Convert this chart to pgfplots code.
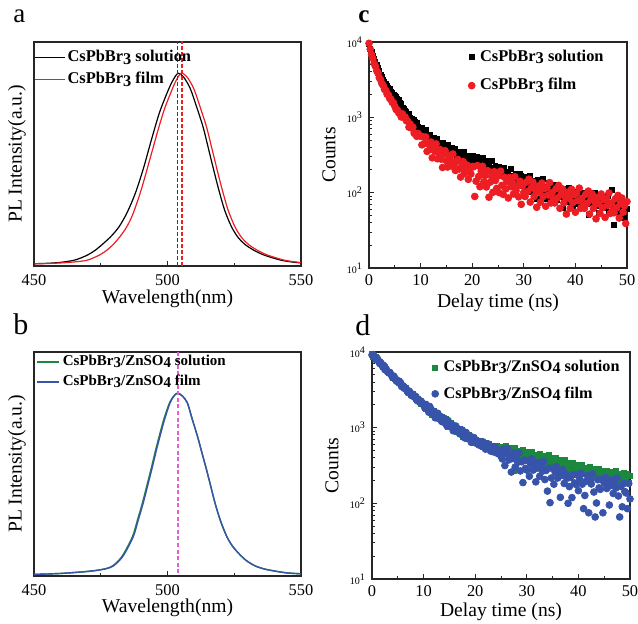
\documentclass[border=0pt]{standalone}
\usepackage{pgfplots}
\usepackage{pgfplotstable}
\pgfplotsset{compat=1.18}
\usepackage{fontspec}
\setmainfont{Liberation Serif}

\definecolor{cred}{RGB}{236,30,36}
\definecolor{cgreen}{RGB}{28,136,62}
\definecolor{cblue}{RGB}{56,84,170}
\definecolor{cpink}{RGB}{230,95,210}
\newcommand{\sub}[1]{\raisebox{-0.3ex}{#1}}

% time-resolved PL, CsPbBr3 (t in ns, counts)
\pgfplotstableread{
t sol film
0 9300 9600
0.25 8000 8000
0.5 7350 6800
0.75 6500 6050
1 6050 5200
1.25 5450 4750
1.5 5000 4150
1.75 4480 3850
2 4100 3350
2.25 3700 3150
2.5 3480 2800
2.75 3150 2650
3 2980 2350
3.25 2760 2280
3.5 2650 2030
3.75 2460 1990
4 2370 1780
4.25 2200 1740
4.5 2130 1580
4.75 1980 1550
5 1920 1400
5.25 1850 1270
5.5 1760 1250
5.75 1690 1150
6 1580 1120
6.25 1520 1010
6.5 1350 1110
6.75 1300 1000
7 1220 1010
7.25 1170 900
7.5 1100 890
7.75 1120 740
8 990 810
8.25 960 720
8.5 900 740
8.75 930 615
9 870 600
9.25 850 560
9.5 745 610
9.75 730 580
10 680 560
10.25 718 431
10.5 621 549
10.75 633 449
11 673 548
11.25 548 353
11.5 593 448
11.75 595 371
12 510 470
12.25 471 290
12.5 541 414
12.75 497 354
13 450 444
13.25 519 282
13.5 446 335
13.75 466 374
14 398 278
14.25 462 216
14.5 403 326
14.75 419 360
15 379 265
15.25 438 219
15.5 379 311
15.75 350 274
16 394 226
16.25 376 326
16.5 339 236
16.75 382 197
17 309 264
17.25 339 275
17.5 352 206
17.75 304 161
18 329 230
18.25 303 258
18.5 344 179
18.75 282 202
19 299 232
19.25 313 150
19.5 264 210
19.75 300 177
20 276 223
20.25 305 220
20.5 245 89
20.75 276 142
21 302 229
21.25 227 164
21.5 246 120
21.75 269 193
22 289 224
22.25 222 139
22.5 237 169
22.75 261 119
23 197 196
23.25 236 87
23.5 210 138
23.75 262 165
24 193 101
24.25 214 190
24.5 228 145
24.75 177 114
25 196 166
25.25 223 100
25.5 179 193
25.75 201 125
26 166 95
26.25 214 160
26.5 180 112
26.75 161 140
27 190 85
27.25 162 159
27.5 205 120
27.75 145 139
28 168 96
28.25 154 163
28.5 177 106
28.75 139 122
29 162 88
29.25 180 142
29.5 169 70
29.75 123 124
30 142 101
30.25 160 89
30.5 117 138
30.75 143 104
31 124 151
31.25 166 75
31.5 103 117
31.75 130 138
32 144 89
32.25 114 109
32.5 82 64
32.75 146 122
33 117 101
33.25 131 75
33.5 98 134
33.75 153 89
34 103 113
34.25 118 66
34.5 82 117
34.75 134 93
35 108 136
35.25 125 73
35.5 92 100
35.75 111 81
36 97 73
36.25 129 113
36.5 80 85
36.75 100 125
37 111 62
37.25 87 96
37.5 62 112
37.75 111 73
38 88 89
38.25 99 52
38.5 75 101
38.75 117 84
39 78 62
39.25 91 111
39.5 63 74
39.75 103 94
40 82 55
40.25 97 98
40.5 71 78
40.75 87 115
41 75 62
41.25 101 84
41.5 63 68
41.75 80 62
42 88 95
42.25 71 72
42.5 51 105
42.75 92 52
43 74 81
43.25 83 96
43.5 63 62
43.75 99 76
44 67 45
44.25 78 86
44.5 54 71
44.75 89 53
45 72 96
45.25 85 63
45.5 62 81
45.75 76 47
46 66 84
46.25 89 68
46.5 55 99
46.75 71 53
47 108 73
47.25 63 59
47.5 37 54
47.75 81 83
48 65 63
48.25 72 92
48.5 55 46
48.75 86 72
49 57 85
49.25 66 55
49.5 46 67
49.75 76 39
50 61 76
}\tauc

% time-resolved PL, CsPbBr3/ZnSO4
\pgfplotstableread{
t sol film
0 9520 9150
0.25 8690 9230
0.5 8690 8600
0.75 8590 7930
1 7780 8260
1.25 7290 7670
1.5 7470 7030
1.75 6920 7130
2 6410 6540
2.25 6470 6660
2.5 6390 5850
2.75 5970 5970
3 5450 5510
3.25 5450 5290
3.5 5390 5340
3.75 4880 4980
4 4590 4590
4.25 4730 4780
4.5 4410 4450
4.75 4110 4110
5 4160 4200
5.25 4120 3890
5.5 3850 3970
5.75 3530 3490
6 3540 3580
6.25 3480 3310
6.5 3320 3350
6.75 3010 3135
7 3110 2900
7.25 2920 3030
7.5 2730 2850
7.75 2780 2640
8 2760 2710
8.25 2590 2520
8.5 2380 2580
8.75 2420 2280
9 2380 2340
9.25 2170 2170
9.5 2050 2240
9.75 2130 2130
10 1990 1980
10.25 2050 1820
10.5 1740 2020
10.75 1850 1815
11 1920 1600
11.25 1620 1870
11.5 1490 1700
11.75 1660 1540
12 1670 1640
12.25 1460 1350
12.5 1350 1490
12.75 1520 1550
13 1380 1310
13.25 1260 1410
13.5 1380 1210
13.75 1180 1190
14 1250 1330
14.25 1300 1196
14.5 1100 1060
14.75 1020 1240
15 1140 1130
15.25 1150 1030
15.5 1010 1100
15.75 930 910
16 1060 1010
16.25 960 1050
16.5 870 890
16.75 930 960
17 970 830
17.25 820 820
17.5 760 930
17.75 860 825
18 870 730
18.25 760 860
18.5 700 790
18.75 800 710
19 700 770
19.25 660 640
19.5 740 700
19.75 680 740
20 620 630
20.25 690 680
20.5 600 610
20.75 650 590
21 680 650
21.25 580 570
21.5 550 650
21.75 620 590
22 640 520
22.25 560 580
22.5 530 610
22.75 610 540
23 560 490
23.25 520 560
23.5 580 480
23.75 510 560
24 550 470
24.25 580 510
24.5 510 450
24.75 490 500
25 540 420
25.25 559 386
25.5 444 514
25.75 524 316
26 569 454
26.25 457 529
26.5 487 374
26.75 541 447
27 412 259
27.25 508 391
27.5 264 462
27.75 550 302
28 416 402
28.25 472 348
28.5 499 467
28.75 397 268
29 469 354
29.25 508 188
29.5 406 375
29.75 432 290
30 478 275
30.25 364 368
30.5 448 228
30.75 395 329
31 486 386
31.25 367 275
31.5 417 330
31.75 441 192
32 350 292
32.25 415 347
32.5 451 228
32.75 361 305
33 385 265
33.25 428 358
33.5 325 206
33.75 401 272
34 353 145
34.25 435 291
34.5 329 102
34.75 373 216
35 395 289
35.25 312 179
35.5 369 257
35.75 399 304
36 319 216
36.25 339 262
36.5 375 120
36.75 285 234
37 350 278
37.25 307 183
37.5 378 244
37.75 284 213
38 322 100
38.25 339 166
38.5 268 221
38.75 314 119
39 339 240
39.25 272 186
39.5 288 178
39.75 319 237
40 243 147
40.25 300 212
40.5 263 250
40.75 325 179
41 245 85
41.25 278 127
41.5 295 195
41.75 233 233
42 276 75
42.25 300 206
42.5 240 180
42.75 256 244
43 284 141
43.25 217 66
43.5 268 101
43.75 235 205
44 289 160
44.25 220 153
44.5 249 206
44.75 265 75
45 211 185
45.25 250 219
45.5 273 157
45.75 219 190
46 234 95
46.25 261 171
46.5 200 204
46.75 246 135
47 218 181
47.25 269 159
47.5 204 216
47.75 232 125
48 246 66
48.25 196 167
48.5 233 90
48.75 253 182
49 204 143
49.25 218 137
49.5 243 85
49.75 185 183
50 229 114
}\tauzn

\pgfplotsset{
  panel/.style={
    scale only axis,
    axis line style={line width=0.6pt, black!85},
    tick align=inside,
    tick pos=left,
    every tick/.style={line width=0.5pt, black!85},
    major tick length=2.6pt,
    minor tick length=1.6pt,
    tick label style={font=\fontsize{8.2}{9}\selectfont},
    label style={font=\fontsize{9.8}{11}\selectfont},
    legend cell align=left,
  },
  pl/.style={
    panel,
    xmin=450, xmax=550,
    xtick={450,500,550},
    minor xtick={475,525},
    ytick=\empty,
    xticklabel style={yshift=-1pt},
    xlabel={Wavelength(nm)},
    ylabel={PL Intensity(a.u.)},
    ylabel style={at={(rel axis cs:-0.064,0.5)}, anchor=center},
    legend image code/.code={\draw[#1] (0pt,0pt) -- (15pt,0pt);},
  },
  trpl/.style={
    panel,
    xmin=0, xmax=50,
    ymin=10, ymax=10000,
    xtick={0,10,20,30,40,50},
    minor xtick={5,15,25,35,45},
    ytick={10,100,1000,10000},
    yticklabels={10\textsuperscript{1},10\textsuperscript{2},10\textsuperscript{3},10\textsuperscript{4}},
    yticklabel style={font=\fontsize{5}{6}\selectfont, xshift=0.5pt},
    xlabel={Delay time (ns)},
    ylabel={Counts},
    ylabel style={at={(rel axis cs:-0.155,0.5)}, anchor=center},
  },
}

\begin{document}
\begin{tikzpicture}
\useasboundingbox (0pt,0pt) rectangle (319pt,-312pt);

% ---- a ----
\begin{axis}[pl,
  at={(17pt,-21pt)}, anchor=north west,
  width=133.5pt, height=112pt,
  ymin=-0.008, ymax=1.163,
  xlabel style={at={(rel axis cs:0.5,-0.147)}, anchor=center},
  legend style={at={(rel axis cs:0,1)}, anchor=north west, yshift=-1.5pt, draw=none, fill=none,
    inner xsep=0pt, inner ysep=1.5pt, row sep=1.8pt,
    nodes={inner xsep=1pt, inner ysep=1pt},
    font=\bfseries\fontsize{8.2}{9}\selectfont},
  /pgf/number format/assume math mode=true,
]
\addplot[black, line width=0.6pt, smooth] coordinates {
(450,0.004) (455,0.006) (460,0.011) (464.7,0.021) (467,0.031) (470,0.049) (473,0.075)
(476,0.11) (479,0.149) (482,0.2) (485,0.275) (488,0.374) (491,0.503) (494,0.653)
(497,0.794) (500,0.902) (502,0.962) (504,1.0) (506,0.98) (508,0.935) (509.2,0.895)
(511,0.82) (513.3,0.72) (515,0.625) (516.4,0.545) (518,0.455) (519.6,0.37) (521.5,0.28)
(524,0.196) (526.5,0.14) (529,0.105) (532,0.077) (536,0.05) (542,0.024) (546,0.014)
(550,0.008)};
\addlegendentry{CsPbBr\sub{3} solution}
\addplot[cred, line width=0.6pt, smooth] coordinates {
(450,0.003) (455,0.005) (460,0.008) (465,0.013) (469.6,0.021) (472,0.033) (475,0.053)
(477.5,0.077) (479.7,0.105) (482,0.142) (484.7,0.196) (487,0.262) (489.7,0.37)
(491.5,0.455) (493.2,0.54) (495,0.63) (496.6,0.71) (498.8,0.81) (501,0.89) (503,0.955)
(505.1,1.0) (507.3,0.98) (509.3,0.935) (510.5,0.895) (512.3,0.82) (514.6,0.72)
(516.3,0.625) (517.7,0.545) (519.3,0.455) (520.9,0.37) (522.8,0.28) (525.3,0.196)
(527.8,0.14) (530.3,0.105) (533.3,0.077) (537.3,0.05) (543.3,0.024) (547,0.015) (550,0.01)};
\addlegendentry{CsPbBr\sub{3} film}
\addplot[black!75, line width=0.7pt, dash pattern=on 1.8pt off 1.2pt, forget plot]
  coordinates {(503.8,-0.1) (503.8,1.3)};
\addplot[cred, line width=0.7pt, dash pattern=on 1.8pt off 1.2pt, forget plot]
  coordinates {(505.4,-0.1) (505.4,1.3)};
\end{axis}

% ---- c ----
\begin{axis}[ymode=log, trpl,
  at={(184.5pt,-21pt)}, anchor=north west,
  width=129pt, height=113pt,
  xlabel style={at={(rel axis cs:0.5,-0.155)}, anchor=center},
  legend style={at={(rel axis cs:1,1)}, anchor=north east, xshift=-8pt, yshift=-0.8pt,
    draw=none, fill=none, inner sep=1pt, row sep=3pt,
    nodes={inner xsep=2.5pt},
    font=\bfseries\fontsize{8.2}{9}\selectfont},
  /pgf/number format/assume math mode=true,
]
\addplot[only marks, mark=square*, mark size=1.2pt, black] table[x=t, y=sol] {\tauc};
\addlegendentry{CsPbBr\sub{3} solution}
\addplot[only marks, mark=*, mark size=1.7pt, cred] table[x=t, y=film] {\tauc};
\addlegendentry{CsPbBr\sub{3} film}
\end{axis}

% ---- b ----
\begin{axis}[pl,
  at={(17pt,-176pt)}, anchor=north west,
  width=133.5pt, height=112pt,
  ymin=-0.005, ymax=1.226,
  xlabel style={at={(rel axis cs:0.5,-0.142)}, anchor=center},
  legend image code/.code={\draw[#1] (0pt,0pt) -- (11pt,0pt);},
  legend style={at={(rel axis cs:0,1)}, anchor=north west, xshift=1pt, draw=none, fill=none,
    inner xsep=0pt, inner ysep=0.5pt, row sep=1.2pt,
    nodes={inner xsep=1.5pt, inner ysep=1pt},
    font=\bfseries\fontsize{7.5}{8.5}\selectfont},
  /pgf/number format/assume math mode=true,
]
\addplot[cgreen, line width=0.7pt, smooth] coordinates {
(450,0.004) (455,0.006) (460,0.009) (465,0.014) (470,0.02) (474,0.027) (477,0.036)
(479.4,0.05) (481.7,0.08) (483.7,0.12) (486.9,0.212) (488.7,0.3) (490.6,0.396)
(492.2,0.488) (493.8,0.58) (495.3,0.672) (496.9,0.764) (498.7,0.86) (500.8,0.948)
(502.4,0.985) (503.8,1.0) (505.5,0.985) (507.4,0.948) (509.2,0.86) (511.2,0.764)
(512.9,0.672) (514.6,0.58) (516.2,0.488) (517.8,0.396) (519.8,0.3) (522.2,0.212)
(524.3,0.16) (526.6,0.12) (529.5,0.08) (532.9,0.05) (537,0.031) (544.2,0.013) (550,0.007)};
\addlegendentry{CsPbBr\sub{3}/ZnSO\sub{4} solution}
\addplot[cblue, line width=0.7pt, smooth] coordinates {
(450,0.004) (455,0.006) (460,0.009) (465,0.014) (470,0.02) (474,0.027) (477.3,0.036)
(479.7,0.05) (482,0.08) (484,0.12) (487.2,0.212) (489,0.3) (490.9,0.396) (492.5,0.488)
(494.1,0.58) (495.6,0.672) (497.2,0.764) (499,0.86) (501,0.948) (502.5,0.985) (503.8,1.0)
(505.5,0.985) (507.4,0.948) (509.2,0.86) (511.2,0.764) (512.9,0.672) (514.6,0.58)
(516.2,0.488) (517.8,0.396) (519.8,0.3) (522.2,0.212) (524.3,0.16) (526.6,0.12)
(529.5,0.08) (532.9,0.05) (537,0.031) (544.2,0.013) (550,0.007)};
\addlegendentry{CsPbBr\sub{3}/ZnSO\sub{4} film}
\addplot[cpink, line width=0.9pt, dash pattern=on 2pt off 1.3pt, forget plot]
  coordinates {(503.8,-0.1) (503.8,1.3)};
\end{axis}

% ---- d ----
\begin{axis}[ymode=log, trpl,
  at={(186pt,-176pt)}, anchor=north west,
  width=129pt, height=113.5pt,
  xlabel style={at={(rel axis cs:0.5,-0.145)}, anchor=center},
  legend style={at={(rel axis cs:1,1)}, anchor=north east, xshift=-1.5pt, yshift=-1pt,
    draw=none, fill=none, inner sep=1pt, row sep=2pt,
    nodes={inner xsep=2.5pt},
    font=\bfseries\fontsize{8.1}{9}\selectfont},
  /pgf/number format/assume math mode=true,
]
\addplot[only marks, mark=square*, mark size=1.2pt, cgreen] table[x=t, y=sol] {\tauzn};
\addlegendentry{CsPbBr\sub{3}/ZnSO\sub{4} solution}
\addplot[only marks, mark=*, mark size=1.7pt, cblue] table[x=t, y=film] {\tauzn};
\addlegendentry{CsPbBr\sub{3}/ZnSO\sub{4} film}
\end{axis}

% panel letters
\node[anchor=base west, inner sep=0pt, font=\fontsize{13.5}{14}\selectfont] at (6.5pt,-11.5pt) {a};
\node[anchor=base west, inner sep=0pt, font=\bfseries\fontsize{12.5}{13}\selectfont] at (179pt,-11.5pt) {c};
\node[anchor=base west, inner sep=0pt, font=\fontsize{15}{16}\selectfont] at (6.5pt,-167.5pt) {b};
\node[anchor=base west, inner sep=0pt, font=\fontsize{15}{16}\selectfont] at (177.5pt,-168pt) {d};
\end{tikzpicture}
\end{document}
